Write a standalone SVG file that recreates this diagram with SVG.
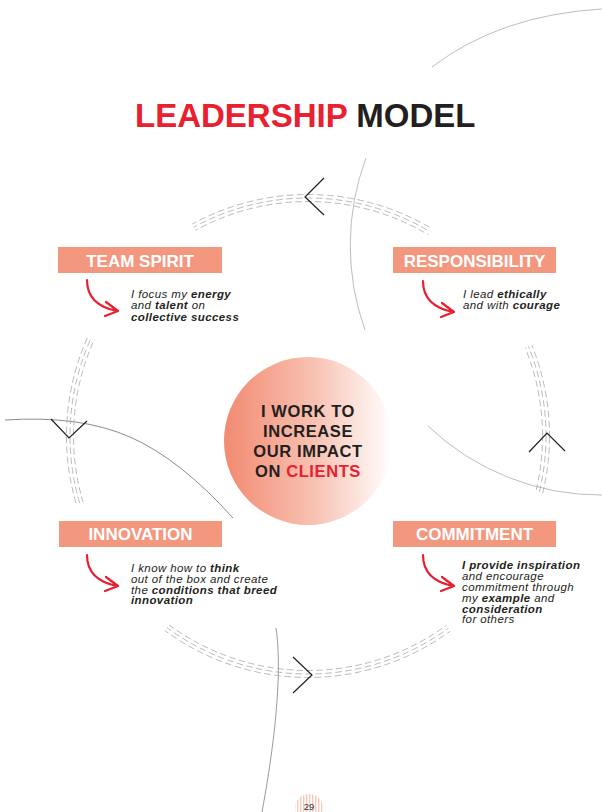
<svg xmlns="http://www.w3.org/2000/svg" width="602" height="812" viewBox="0 0 602 812">
<style>
.title{font-family:"Liberation Sans",Arial,sans-serif;font-weight:bold;font-size:33px}
.lbl{font-family:"Liberation Sans",Arial,sans-serif;font-weight:bold;font-size:17px;fill:#fff;text-anchor:middle}
.box{fill:#f4977f}
.desc{font-family:"Liberation Sans",Arial,sans-serif;font-style:italic;font-size:11.5px;letter-spacing:0.4px;fill:#231f20}
.b{font-weight:bold}
.ctr{font-family:"Liberation Sans",Arial,sans-serif;font-weight:bold;font-size:16.5px;letter-spacing:0.6px;fill:#231f20;text-anchor:middle}
.red{fill:#e8202f}
.ring{fill:none;stroke:#a8a8a8;stroke-width:0.8;stroke-dasharray:6.5 3.5}
.thin{fill:none;stroke:#bdbdbd;stroke-width:1}
.chev{fill:none;stroke:#231f20;stroke-width:1.2}
.arr{fill:none;stroke:#e8202f;stroke-width:2.2;stroke-linecap:round;stroke-linejoin:round}
</style>
<defs>
<linearGradient id="cg" x1="0" y1="0" x2="1" y2="0">
<stop offset="0" stop-color="#f28a71"/>
<stop offset="0.55" stop-color="#f8c3b4"/>
<stop offset="1" stop-color="#ffffff"/>
</linearGradient>
<pattern id="stripes" width="3" height="4" patternUnits="userSpaceOnUse">
<rect x="0" y="0" width="1.4" height="4" fill="#f7c9bc"/>
</pattern>
<mask id="arcs" maskUnits="userSpaceOnUse" x="0" y="0" width="602" height="812">
<rect x="0" y="0" width="602" height="812" fill="#000"/>
<polygon points="308,436 154.4,155.2 472.3,161.4" fill="#fff"/>
<polygon points="308,436 604.5,315.6 618.9,511.8" fill="#fff"/>
<polygon points="308,436 496.5,694.6 118.1,693.6" fill="#fff"/>
<polygon points="308,436 1,526.3 16.6,303.8" fill="#fff"/>
</mask>
<path id="arrowShape" d="M87,280 C87,296 97,307 117,311 M106,302 L118,311 L105,316"/>
</defs>
<rect width="602" height="812" fill="#fff"/>

<g id="background-lines">
<path class="thin" d="M432,67 Q500,15 602,9" stroke="#c8c8c8"/>
<path class="thin" d="M366,158 A250,250 0 0 0 365,330"/>
<path class="thin" d="M428,426 A250,250 0 0 0 602,495"/>
<path class="thin" d="M5,420 Q80,415 130,437 T233,518" style="stroke:#8c8c8c"/>
<path class="thin" d="M276,628 C281,660 279,720 262,812" style="stroke:#9a9a9a"/>
</g>

<g id="connectors">
<g mask="url(#arcs)">
<circle class="ring" cx="308" cy="436" r="234.5" pathLength="1496" stroke-dashoffset="1"/>
<circle class="ring" cx="308" cy="436" r="238" pathLength="1496"/>
<circle class="ring" cx="308" cy="436" r="241.5" pathLength="1496" stroke-dashoffset="-1"/>
</g>
<path class="chev" d="M324,178 L305,197 L324,215"/>
<path class="chev" d="M51,419 L69,438 L87,421"/>
<path class="chev" d="M529,452 L547,433 L565,451"/>
<path class="chev" d="M293,657 L312,675 L293,693"/>
</g>

<g id="title">
<text class="title" x="135" y="127"><tspan class="red">LEADERSHIP</tspan> <tspan fill="#231f20">MODEL</tspan></text>
</g>

<g id="center">
<circle cx="308" cy="441" r="84" fill="url(#cg)"/>
<text class="ctr" x="308" y="417">I WORK TO</text>
<text class="ctr" x="308" y="437">INCREASE</text>
<text class="ctr" x="308" y="457">OUR IMPACT</text>
<text class="ctr" x="308" y="477">ON <tspan class="red">CLIENTS</tspan></text>
</g>

<g id="team-spirit">
<rect class="box" x="58" y="247" width="164" height="26"/>
<text class="lbl" x="140" y="267">TEAM SPIRIT</text>
<use href="#arrowShape" class="arr"/>
<text class="desc" x="131" y="298">I focus my <tspan class="b">energy</tspan></text>
<text class="desc" x="131" y="309.3">and <tspan class="b">talent</tspan> on</text>
<text class="desc" x="131" y="320.6"><tspan class="b">collective success</tspan></text>
</g>

<g id="responsibility">
<rect class="box" x="393" y="247" width="163" height="26"/>
<text class="lbl" x="474.5" y="267">RESPONSIBILITY</text>
<use href="#arrowShape" class="arr" transform="translate(336,1)"/>
<text class="desc" x="463" y="297.5">I lead <tspan class="b">ethically</tspan></text>
<text class="desc" x="463" y="308.5">and with <tspan class="b">courage</tspan></text>
</g>

<g id="innovation">
<rect class="box" x="59" y="521" width="163" height="26"/>
<text class="lbl" x="140.5" y="539.5">INNOVATION</text>
<use href="#arrowShape" class="arr" transform="translate(0,275)"/>
<text class="desc" x="131" y="571.7">I know how to <tspan class="b">think</tspan></text>
<text class="desc" x="131" y="582.6">out of the box and create</text>
<text class="desc" x="131" y="593.5">the <tspan class="b">conditions that breed</tspan></text>
<text class="desc" x="131" y="604.4"><tspan class="b">innovation</tspan></text>
</g>

<g id="commitment">
<rect class="box" x="393" y="521" width="163" height="26"/>
<text class="lbl" x="474.5" y="539.5">COMMITMENT</text>
<use href="#arrowShape" class="arr" transform="translate(336,275)"/>
<text class="desc" x="462" y="569.3"><tspan class="b">I provide inspiration</tspan></text>
<text class="desc" x="462" y="580.1">and encourage</text>
<text class="desc" x="462" y="590.9">commitment through</text>
<text class="desc" x="462" y="601.7">my <tspan class="b">example</tspan> and</text>
<text class="desc" x="462" y="612.5"><tspan class="b">consideration</tspan></text>
<text class="desc" x="462" y="623.3">for others</text>
</g>

<g id="page-number">
<circle cx="309" cy="808" r="14" fill="url(#stripes)"/>
<text x="309" y="809.5" font-family="Liberation Sans, Arial, sans-serif" font-size="9.5" fill="#333" text-anchor="middle">29</text>
</g>
</svg>
